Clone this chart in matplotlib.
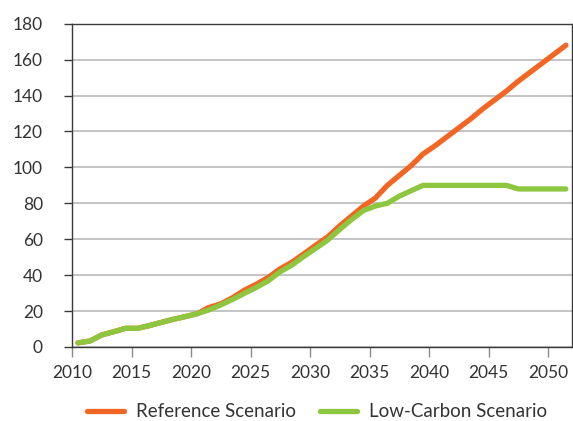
import numpy as np
import matplotlib.pyplot as plt

plt.rcParams['font.family'] = ['Lato', 'DejaVu Sans']

# annual values, plotted at mid-year
years = list(range(2011, 2053))
reference = [2.3, 3.3, 6.7, 8.5, 10.4, 10.4, 11.9, 13.7, 15.4, 16.9,
             18.5, 22.0, 24.0, 27.5, 31.7, 35.0, 38.8, 43.6, 47.3, 52.0,
             56.8, 61.4, 67.5, 73.0, 78.5, 83.0, 90.0, 95.5, 101.0, 107.5,
             112.0, 117.0, 122.0, 127.0, 132.5, 137.5, 142.5, 148.0, 153.0, 158.0,
             163.0, 168.0]
low_carbon = [2.3, 3.3, 6.7, 8.5, 10.4, 10.4, 11.9, 13.7, 15.4, 16.9,
              18.5, 20.6, 23.4, 26.5, 29.9, 33.2, 36.9, 41.9, 45.7, 50.5,
              55.0, 59.6, 65.5, 71.0, 76.0, 78.5, 80.0, 84.0, 87.0, 90.0,
              90.0, 90.0, 90.0, 90.0, 90.0, 90.0, 90.0, 88.0, 88.0, 88.0,
              88.0, 88.0]

x = np.array(years) - 0.5

fig = plt.figure(figsize=(5.73, 4.21), dpi=100)
ax = fig.add_axes([0.1257, 0.1758, 0.8723, 0.7679])

ax.plot(x, reference, color="#F26522", lw=3.8, solid_capstyle="round",
        solid_joinstyle="round", label="Reference Scenario", zorder=3)
ax.plot(x, low_carbon, color="#8DC63F", lw=3.8, solid_capstyle="round",
        solid_joinstyle="round", label="Low-Carbon Scenario", zorder=4)

ax.set_xlim(2010, 2052)
ax.set_ylim(0, 180)
ax.set_xticks(range(2010, 2051, 5))
ax.set_yticks(range(0, 181, 20))
ax.yaxis.grid(True, color="#b4b4b4", lw=1.1)
ax.set_axisbelow(True)

for s in ax.spines.values():
    s.set_color("#3a3a3a")
    s.set_linewidth(1.0)

ax.tick_params(axis="x", direction="out", length=7, width=1, color="#8a8a8a",
               pad=6, labelsize=12.5, labelcolor="#333333")
ax.tick_params(axis="y", direction="out", length=6, width=1, color="#3a3a3a",
               pad=15, labelsize=12.5, labelcolor="#333333")

fig.legend(loc="lower center", bbox_to_anchor=(0.553, -0.038), ncol=2,
           frameon=False, fontsize=13.5, handlelength=2.0, handletextpad=0.6,
           columnspacing=1.3, labelcolor="#333333")

fig.savefig("out.png", dpi=100)
